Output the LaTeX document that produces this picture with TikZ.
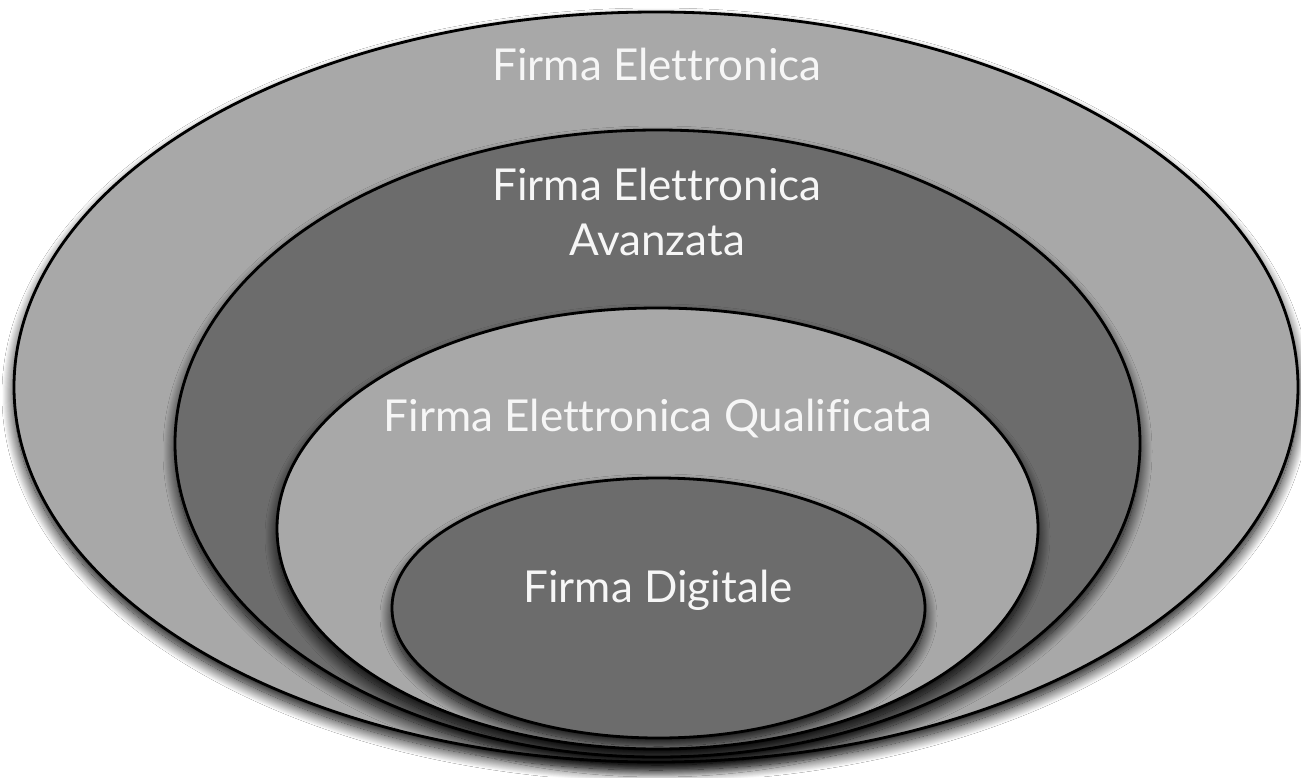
\documentclass[tikz,border=0pt]{standalone}
\usepackage{fontspec}
\setmainfont{Lato}[Ligatures=NoCommon]
\usetikzlibrary{shapes.geometric,shadows.blur}
\definecolor{lightg}{HTML}{A8A8A8}
\definecolor{darkg}{HTML}{6C6C6C}
\definecolor{txt}{HTML}{F6F6F6}
\tikzset{
  ring/.style={ellipse, draw=black, line width=2.8pt, inner sep=0pt,
    blur shadow={shadow xshift=0pt, shadow yshift=-8pt, shadow blur radius=12pt, shadow opacity=100, shadow blur steps=24}},
  lab/.style={text=txt, font=\fontsize{44}{60}\selectfont, anchor=base, inner sep=0pt}
}
\begin{document}
\begin{tikzpicture}[x=1pt,y=-1pt]
\useasboundingbox[fill=white] (0,0) rectangle (1301,777);
\node[ring, fill=lightg, minimum width=1284pt, minimum height=750pt] (e1) at (656,387) {};
\node[ring, fill=darkg, minimum width=965pt, minimum height=627pt] (e2) at (657.5,443.5) {};
\node[ring, fill=lightg, minimum width=761pt, minimum height=441pt] (e3) at (657.5,528.5) {};
\node[ring, fill=darkg, minimum width=533pt, minimum height=260pt] (e4) at (658.5,608) {};
\node[lab] (t1) at (657,80) {Firma Elettronica};
\node[lab] (t2a) at (657,200) {Firma Elettronica};
\node[lab] (t2b) at (657,255) {Avanzata};
\node[lab] (t3) at (658,431) {Firma Elettronica Qualificata};
\node[lab] (t4) at (658,602) {Firma Digitale};
\end{tikzpicture}
\end{document}
